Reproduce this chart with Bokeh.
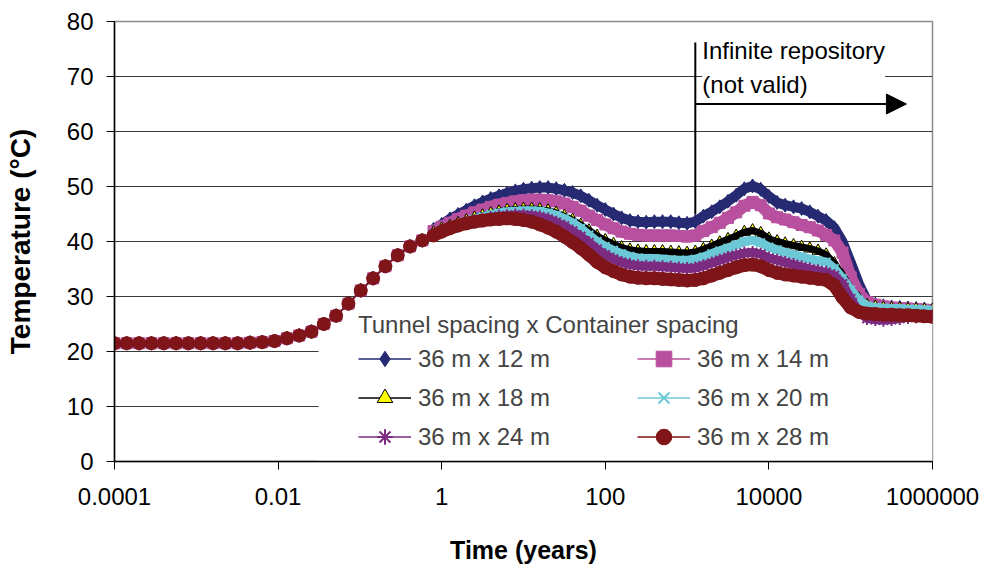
import numpy as np
from bokeh.plotting import figure
from bokeh.models import (ColumnDataSource, FixedTicker, Legend, LegendItem, Label,
                          Arrow, NormalHead, Range1d, LogAxis, LinearAxis, BoxAnnotation)
from bokeh.embed import file_html
from bokeh.resources import INLINE

FONT = "Liberation Sans"

# ---------------- data ----------------
early_times = [0.0001, 0.000141, 0.0002, 0.000283, 0.0004, 0.000566, 0.0008, 0.00113,
               0.0016, 0.00226, 0.0032, 0.00453, 0.0064, 0.00905, 0.0128, 0.0181,
               0.0256, 0.0362, 0.0512, 0.0724, 0.1024, 0.145, 0.205, 0.29, 0.41, 0.579]
# all six cases coincide before ~0.6 years
early_temp = [21.5, 21.5, 21.5, 21.5, 21.5, 21.5, 21.5, 21.5, 21.5, 21.5, 21.5,
              21.6, 21.7, 21.9, 22.4, 22.9, 23.6, 25.0, 26.5, 28.7, 31.1, 33.3,
              35.5, 37.5, 39.1, 40.2]

late_times = [0.794, 1, 1.26, 1.58, 2, 2.51, 3.16, 3.98, 5.01, 6.31,
              7.94, 10, 12.6, 15.8, 20, 25.1, 31.6, 39.8, 50.1, 63.1,
              79.4, 100, 126, 158, 200, 251, 316, 398, 501, 631,
              794, 1000, 1260, 1580, 2000, 2510, 3160, 3980, 5010, 6310,
              7940, 10000, 12600, 15800, 20000, 25100, 31600, 39800, 50100, 63100,
              79400, 100000, 126000, 158000, 200000, 251000, 316000, 398000, 501000, 631000,
              794000, 1000000]

temp_12 = [42.2, 43.1, 44.1, 44.9, 45.7, 46.5, 47.2, 47.8, 48.3, 48.8,
           49.2, 49.5, 49.7, 49.8, 49.8, 49.6, 49.3, 48.9, 48.3, 47.5,
           46.6, 45.8, 45.0, 44.3, 43.8, 43.6, 43.5, 43.6, 43.6, 43.6,
           43.4, 43.3, 43.6, 44.6, 45.4, 46.3, 47.3, 48.4, 49.6, 50.1,
           49.5, 48.2, 47.1, 46.6, 46.3, 46.0, 45.4, 44.6, 43.8, 42.5,
           40.0, 36.2, 32.3, 29.3, 28.6, 28.3, 28.1, 28.0, 27.9, 27.8,
           27.7, 27.6]
temp_14 = [41.9, 42.7, 43.4, 44.1, 44.7, 45.3, 45.8, 46.3, 46.7, 47.0,
           47.3, 47.5, 47.6, 47.6, 47.5, 47.3, 46.9, 46.3, 45.6, 44.7,
           43.9, 43.1, 42.4, 41.8, 41.4, 41.2, 41.1, 41.1, 41.1, 41.1,
           41.0, 40.9, 41.1, 41.9, 42.6, 43.4, 44.3, 45.3, 46.5, 47.2,
           46.6, 45.1, 44.4, 44.0, 43.5, 43.0, 42.6, 42.0, 41.2, 40.2,
           38.0, 33.5, 30.5, 29.0, 28.5, 28.2, 28.0, 27.9, 27.8, 27.7,
           27.6, 27.5]
temp_18 = [41.6, 42.3, 42.8, 43.3, 43.8, 44.3, 44.7, 45.1, 45.4, 45.7,
           45.8, 45.9, 45.9, 45.8, 45.6, 45.2, 44.6, 43.9, 43.0, 42.0,
           41.0, 40.2, 39.5, 38.9, 38.5, 38.3, 38.2, 38.2, 38.2, 38.1,
           38.0, 37.9, 38.1, 38.6, 39.2, 39.8, 40.4, 41.0, 41.7, 42.0,
           41.5, 40.5, 40.0, 39.6, 39.3, 39.0, 38.7, 38.3, 37.6, 36.0,
           33.8, 31.3, 29.6, 28.4, 28.1, 27.9, 27.8, 27.8, 27.7, 27.7,
           27.6, 27.5]
temp_20 = [41.5, 42.2, 42.7, 43.2, 43.7, 44.1, 44.5, 44.9, 45.2, 45.4,
           45.5, 45.6, 45.6, 45.5, 45.2, 44.8, 44.2, 43.4, 42.4, 41.2,
           40.0, 39.1, 38.4, 37.8, 37.3, 37.0, 36.9, 36.9, 36.8, 36.7,
           36.6, 36.6, 36.8, 37.2, 37.8, 38.3, 38.8, 39.4, 40.0, 40.2,
           39.8, 39.0, 38.5, 38.0, 37.6, 37.2, 36.8, 36.5, 36.3, 35.1,
           33.3, 31.2, 29.4, 28.3, 28.0, 27.9, 27.8, 27.8, 27.7, 27.7,
           27.6, 27.5]
temp_24 = [41.3, 42.0, 42.5, 42.9, 43.3, 43.7, 44.0, 44.3, 44.6, 44.7,
           44.8, 44.8, 44.7, 44.5, 44.1, 43.5, 42.8, 41.9, 40.9, 39.8,
           38.6, 37.6, 36.8, 36.2, 35.8, 35.6, 35.5, 35.5, 35.4, 35.3,
           35.2, 35.1, 35.2, 35.6, 36.1, 36.6, 37.1, 37.5, 37.9, 38.0,
           37.7, 37.0, 36.6, 36.2, 35.8, 35.4, 35.0, 34.7, 34.4, 33.8,
           32.3, 29.6, 27.2, 26.0, 25.8, 25.7, 25.8, 26.0, 26.2, 26.3,
           26.4, 26.5]
temp_28 = [41.1, 41.8, 42.4, 42.9, 43.3, 43.6, 43.8, 44.0, 44.1, 44.2,
           44.1, 43.9, 43.6, 43.1, 42.5, 41.8, 40.9, 39.9, 38.8, 37.6,
           36.3, 35.3, 34.6, 34.0, 33.6, 33.4, 33.3, 33.3, 33.2, 33.1,
           33.0, 32.9, 33.0, 33.3, 33.8, 34.3, 34.8, 35.3, 35.7, 35.8,
           35.5, 34.8, 34.3, 34.0, 33.8, 33.6, 33.4, 33.2, 33.0, 32.0,
           29.8, 28.0, 27.2, 26.9, 26.8, 26.7, 26.7, 26.6, 26.6, 26.5,
           26.4, 26.3]

labels = ["36 m x 12 m", "36 m x 14 m", "36 m x 18 m", "36 m x 20 m", "36 m x 24 m", "36 m x 28 m"]
series_late = [temp_12, temp_14, temp_18, temp_20, temp_24, temp_28]

x_ticks = [0.0001, 0.01, 1, 100, 10000, 1000000]
x_tick_labels = ["0.0001", "0.01", "1", "100", "10000", "1000000"]
y_ticks = [0, 10, 20, 30, 40, 50, 60, 70, 80]

x_title = "Time (years)"
y_title = "Temperature (°C)"

# annotation (boundary of validity)
boundary_year = 1260
boundary_top = 76.2
boundary_bottom = 44.9
arrow_level = 65
arrow_end_year = 480000
note_text = "Infinite repository\n(not valid)"
note_top = 77.1

# white legend area (hides the gridlines behind the legend, like the original)
legend_area_left = 0.0312
legend_area_top = 28.5

# ---------------- styles ----------------
styles = [
    dict(color="#262A72", marker="diamond", size=14, fill="#262A72", lw=1, band=10, band_on_top=False),
    dict(color="#B8509F", marker="square", size=11, fill="#B8509F", lw=1, band=12, band_on_top=False),
    dict(color="#000000", marker="triangle", size=12, fill="#FFFF00", lw=1, band=7, band_on_top=True),
    dict(color="#6CC8D6", marker="x", size=12, fill="#6CC8D6", lw=2, band=9, band_on_top=False),
    dict(color="#7B2B80", marker="asterisk", size=13, fill="#7B2B80", lw=2, band=9, band_on_top=False),
    dict(color="#7F1518", marker="circle", size=13, fill="#7F1518", lw=1, band=13, band_on_top=False),
]

p = figure(width=986, height=572, x_axis_type="log",
           x_range=Range1d(1e-4, 1e6), y_range=Range1d(0, 80),
           output_backend="svg", toolbar_location=None,
           min_border_left=114, min_border_right=54, min_border_top=21, min_border_bottom=111)
p.background_fill_color = "white"
p.border_fill_color = "white"
p.outline_line_color = "#8c8c8c"
p.outline_line_width = 1.5

# axes
for ax in (p.xaxis, p.yaxis):
    ax.axis_line_color = "black"
    ax.axis_line_width = 1.5
    ax.major_tick_line_color = "black"
    ax.major_tick_out = 8
    ax.major_tick_in = 0
    ax.minor_tick_line_color = None
    ax.major_label_text_font = FONT
    ax.major_label_text_font_size = "24px"
    ax.major_label_text_color = "black"
    ax.major_label_standoff = 13
p.xaxis.major_label_standoff = 18

p.xaxis.ticker = FixedTicker(ticks=x_ticks)
p.xaxis.major_label_overrides = {t: s for t, s in zip(x_ticks, x_tick_labels)}
p.yaxis.ticker = FixedTicker(ticks=y_ticks)

p.xgrid.grid_line_color = None
p.ygrid.ticker = FixedTicker(ticks=y_ticks[1:-1])
p.ygrid.grid_line_color = "#3a3a3a"
p.ygrid.grid_line_width = 1


def title_axis(axis_cls, text, font_size, standoff):
    """An axis that only carries a title."""
    a = axis_cls(ticker=FixedTicker(ticks=[]),
                 axis_label=text, axis_label_standoff=standoff,
                 axis_label_text_font=FONT, axis_label_text_font_size=font_size,
                 axis_label_text_font_style="bold", axis_label_text_color="black")
    a.axis_line_color = None
    a.major_tick_line_color = None
    a.minor_tick_line_color = None
    a.major_tick_out = 0
    a.major_tick_in = 0
    a.minor_tick_out = 0
    a.minor_tick_in = 0
    a.major_label_text_font_size = "1px"
    a.major_label_text_color = None
    return a


p.add_layout(title_axis(LogAxis, x_title, "25px", 28), "below")
p.add_layout(title_axis(LinearAxis, y_title, "28px", 28), "left")

# white area behind the legend, under the curves
p.add_layout(BoxAnnotation(left=legend_area_left, bottom=0, top=legend_area_top,
                           fill_color="white", fill_alpha=1.0, line_color=None, level="underlay"))

# series
items = []
for lab, late, st in zip(labels, series_late, styles):
    xs = early_times + late_times
    ys = early_temp + late
    src = ColumnDataSource(dict(t=xs, T=ys))
    dense = ColumnDataSource(dict(t=late_times, T=late))
    if not st["band_on_top"]:
        p.line("t", "T", source=dense, line_color=st["color"], line_width=st["band"])
    lr = p.line("t", "T", source=src, line_color=st["color"], line_width=1.5)
    sr = p.scatter("t", "T", source=src, marker=st["marker"], size=st["size"],
                   line_color=st["color"], fill_color=st["fill"], line_width=st["lw"])
    if st["band_on_top"]:
        p.line("t", "T", source=dense, line_color=st["color"], line_width=st["band"])
    items.append(LegendItem(label=lab, renderers=[lr, sr]))

# order for a column-major 3x2 grid: left column 12,18,24; right column 14,20,28
ordered = [items[0], items[2], items[4], items[1], items[3], items[5]]
legend = Legend(items=ordered, orientation="vertical", nrows=3, ncols=2,
                location=(244, 5),
                title="Tunnel spacing x Container spacing",
                title_text_font=FONT, title_text_font_size="24px", title_text_font_style="normal",
                title_standoff=0,
                label_text_font=FONT, label_text_font_size="24px",
                glyph_width=53, glyph_height=39, label_standoff=7, label_width=219,
                label_height=20, spacing=0, padding=6, margin=0,
                border_line_color=None, background_fill_alpha=0.0)
p.add_layout(legend, "center")

# annotation: text box first, then the lines on top of it
p.add_layout(Label(x=boundary_year, y=note_top, x_offset=7, text=note_text,
                   text_font=FONT, text_font_size="24px", text_baseline="top",
                   text_line_height=1.25, text_color="black",
                   background_fill_color="white", background_fill_alpha=1.0))
p.add_layout(Arrow(end=None, start=None, x_start=boundary_year, y_start=boundary_bottom,
                   x_end=boundary_year, y_end=boundary_top, line_color="black", line_width=2))
p.add_layout(Arrow(end=NormalHead(size=20, fill_color="black", line_color="black"),
                   x_start=boundary_year, y_start=arrow_level, x_end=arrow_end_year, y_end=arrow_level,
                   line_color="black", line_width=2))

open("out.html", "w").write(file_html(p, INLINE, title="Temperature"))
